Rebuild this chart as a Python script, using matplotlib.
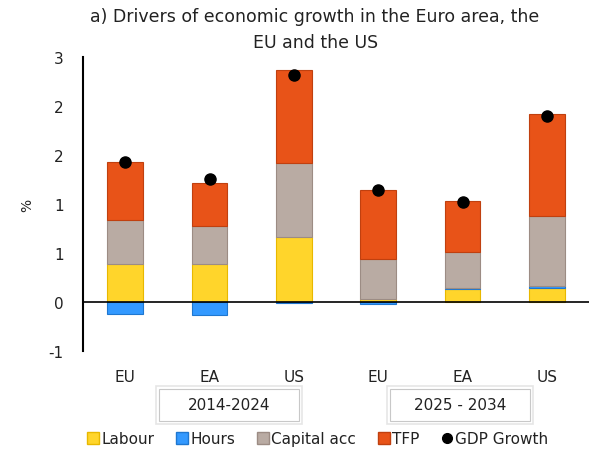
import matplotlib.pyplot as plt
import numpy as np
from matplotlib.patches import Rectangle
from matplotlib.lines import Line2D

# data (percentage points)
categories = ['EU', 'EA', 'US', 'EU', 'EA', 'US']
periods = ['2014-2024', '2025 - 2034']
labour = [0.39, 0.39, 0.66, 0.03, 0.13, 0.14]
hours = [-0.12, -0.13, -0.01, -0.02, 0.01, 0.02]
capital = [0.45, 0.39, 0.76, 0.41, 0.37, 0.72]
tfp = [0.59, 0.43, 0.95, 0.70, 0.52, 1.04]
gdp = [1.43, 1.25, 2.32, 1.14, 1.02, 1.90]
ytick_vals = [-0.5, 0, 0.5, 1.0, 1.5, 2.0, 2.5]
ytick_labels = ['-1', '0', '1', '1', '2', '2', '3']

plt.rcParams['font.family'] = ['DejaVu Sans']
txt_col = '#222222'

fig = plt.figure(figsize=(6.06, 4.56), dpi=100)
ax = fig.add_axes([0.137, 0.228, 0.835, 0.645])

x = np.arange(len(categories))
w = 0.42
series = [
    ('Labour', labour, '#FFD52B', '#E8B800'),
    ('Hours', hours, '#3399FF', '#1F77D0'),
    ('Capital acc', capital, '#B9ABA3', '#9C8C84'),
    ('TFP', tfp, '#E85318', '#C0400F'),
]

pos_bottom = np.zeros(len(x))
neg_bottom = np.zeros(len(x))
for name, vals, fc, ec in series:
    vals = np.array(vals)
    bottom = np.where(vals >= 0, pos_bottom, neg_bottom)
    ax.bar(x, vals, w, bottom=bottom, color=fc, edgecolor=ec, linewidth=0.8, zorder=2)
    pos_bottom = pos_bottom + np.where(vals >= 0, vals, 0)
    neg_bottom = neg_bottom + np.where(vals < 0, vals, 0)

ax.plot(x, gdp, 'o', color='black', markersize=8, zorder=4)

ax.axhline(0, color='black', linewidth=1.2, zorder=3)
ax.set_xlim(-0.5, 5.5)
ax.set_ylim(-0.5, 2.5)
ax.set_yticks(ytick_vals)
ax.set_yticklabels(ytick_labels)
ax.set_xticks(x)
ax.set_xticklabels(categories)
ax.tick_params(axis='y', length=0, pad=14, labelsize=11, labelcolor=txt_col)
ax.tick_params(axis='x', length=0, pad=13, labelsize=11, labelcolor=txt_col)
for s in ['top', 'right', 'bottom']:
    ax.spines[s].set_visible(False)
ax.spines['left'].set_linewidth(1.5)
ax.set_ylabel('%', fontsize=10, labelpad=10, color=txt_col)

fig.text(0.52, 0.982, 'a) Drivers of economic growth in the Euro area, the\nEU and the US',
         ha='center', va='top', fontsize=12.5, linespacing=1.55, color=txt_col)

# period boxes under the category labels
for (x0, x1), lab in zip([(156, 302), (387, 533)], periods):
    fig.patches.append(Rectangle((x0 / 606, 1 - 425 / 456), (x1 - x0) / 606, 38 / 456,
                                 transform=fig.transFigure, facecolor='white',
                                 edgecolor='#E6E6E6', linewidth=1.2))
    fig.patches.append(Rectangle(((x0 + 3) / 606, 1 - 422 / 456), (x1 - x0 - 6) / 606, 32 / 456,
                                 transform=fig.transFigure, facecolor='none',
                                 edgecolor='#C8C8C8', linewidth=0.8))
    fig.text((x0 + x1) / 2 / 606, 1 - 406 / 456, lab, ha='center', va='center',
             fontsize=11, color=txt_col)

handles = [Line2D([], [], marker='s', linestyle='none', markersize=9,
                  markerfacecolor=fc, markeredgecolor=ec) for _, _, fc, ec in series]
handles.append(Line2D([], [], marker='o', linestyle='none', markersize=7, color='black'))
labels = [s[0] for s in series] + ['GDP Growth']
leg = fig.legend(handles, labels, loc='center', bbox_to_anchor=(0.523, 1 - 440 / 456), ncol=5,
                 frameon=False, fontsize=11, handletextpad=0.05, columnspacing=1.3,
                 handlelength=1.0, borderaxespad=0)
for t in leg.get_texts():
    t.set_color(txt_col)

fig.savefig('out.png', dpi=100)
